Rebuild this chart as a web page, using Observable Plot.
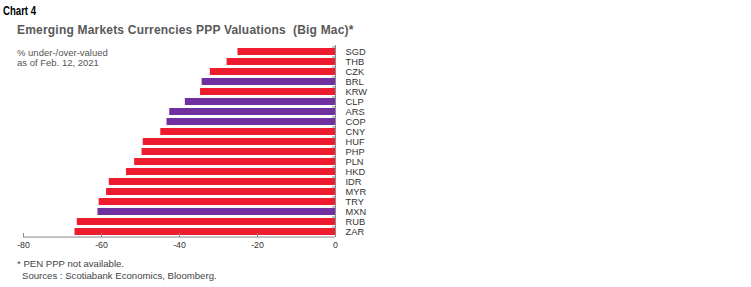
<!DOCTYPE html>
<html><head><meta charset="utf-8">
<script src="https://cdn.jsdelivr.net/npm/d3@7"></script>
<script src="https://cdn.jsdelivr.net/npm/@observablehq/plot@0.6"></script>
<style>
body{margin:0;background:#fff;font-family:"Liberation Sans",Arial,sans-serif;}
#wrap{position:relative;width:751px;height:287px;overflow:hidden;}
.t{position:absolute;white-space:nowrap;}
#chartno{left:3px;top:4px;font-weight:bold;font-size:12px;color:#000;transform:scaleX(0.8);transform-origin:0 0;}
#title{left:17px;top:23px;font-weight:bold;font-size:12px;color:#595959;letter-spacing:0.2px;}
#sub{left:17px;top:48px;font-size:9.5px;line-height:10px;color:#555;}
#foot1{left:17px;top:258px;font-size:9.6px;color:#444;}
#foot2{left:22px;top:270px;font-size:9.6px;color:#444;}
#plot{position:absolute;left:0;top:0;}
</style></head><body>
<div id="wrap">
<div id="plot"></div>
<div class="t" id="chartno">Chart 4</div>
<div class="t" id="title">Emerging Markets Currencies PPP Valuations&nbsp; (Big Mac)*</div>
<div class="t" id="sub">% under-/over-valued<br>as of Feb. 12, 2021</div>
<div class="t" id="foot1">* PEN PPP not available.</div>
<div class="t" id="foot2">Sources : Scotiabank Economics, Bloomberg.</div>
</div>
<script>
const currencies = ["SGD","THB","CZK","BRL","KRW","CLP","ARS","COP","CNY","HUF","PHP","PLN","HKD","IDR","MYR","TRY","MXN","RUB","ZAR"];
const values = [-25.0,-27.8,-32.1,-34.2,-34.6,-38.5,-42.5,-43.2,-44.8,-49.3,-49.6,-51.5,-53.6,-58.0,-58.7,-60.6,-60.9,-66.2,-66.8];
const latam = ["BRL","CLP","ARS","COP","MXN"];
const xTicks = [-80,-60,-40,-20,0];

const data = currencies.map((c,i)=>({cur:c, val:values[i], grp: latam.includes(c) ? "latam" : "other"}));

const mT = 45, mB = 50;
const step = (287 - mT - mB) / currencies.length;

const chart = Plot.plot({
  width: 751, height: 287,
  marginLeft: 23, marginRight: 416, marginTop: mT, marginBottom: mB,
  style: {fontFamily: "'Liberation Sans', Arial, sans-serif", background: "transparent", overflow: "visible"},
  x: {domain: [-80, 0]},
  y: {domain: currencies, paddingInner: 0.3, paddingOuter: 0.15, align: 0.5},
  color: {domain: ["other","latam"], range: ["#ED1C2E","#7030A0"]},
  marks: [
    Plot.barX(data, {x: "val", y: "cur", fill: "grp"}),
    Plot.ruleX([0], {stroke: "#888", strokeWidth: 1}),
    Plot.axisY({anchor: "right", tickSize: -4, text: null, stroke: "#888", dy: -step/2, label: null}),
    Plot.axisY({anchor: "right", tickSize: 0, tickPadding: 10, fontSize: 9.3, fill: "#333", label: null}),
    Plot.axisX({ticks: xTicks, tickSize: -4, stroke: "#888", tickPadding: 8, fontSize: 8.8, fill: "#333", label: null, tickFormat: d => String(d)}),
    Plot.ruleY([0], {y: () => currencies[currencies.length-1], dy: step/2, stroke: "#888", x1: -80, x2: 0})
  ]
});
document.getElementById("plot").appendChild(chart);
</script>
</body></html>
